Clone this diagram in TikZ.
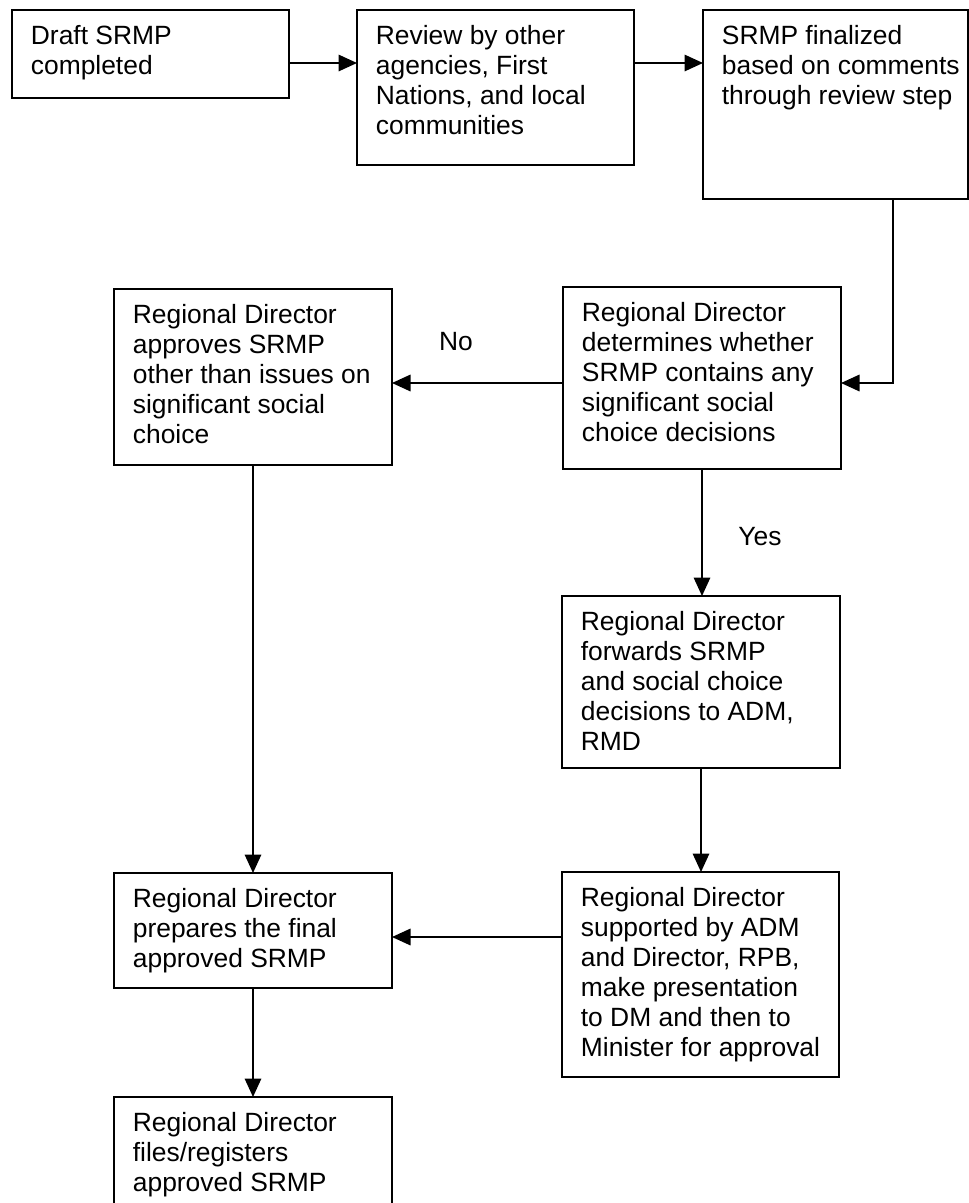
\documentclass[tikz,border=0pt]{standalone}
\usepackage{fontspec}
\setmainfont{Liberation Sans}
\usetikzlibrary{arrows.meta,calc}
\newcommand\fst{\rule{0pt}{22pt}}
\begin{document}
\begin{tikzpicture}[x=1pt,y=-1pt,
  box/.style={draw,line width=1.7pt,anchor=north west,inner sep=0pt,outer sep=0pt},
  txt/.style={anchor=north west,inner sep=0pt,align=left,font=\fontsize{26.4}{30}\selectfont},
  arr/.style={line width=1.7pt,-{Triangle[length=18.5pt,width=16.5pt]}},
  lbl/.style={inner sep=0pt,font=\fontsize{26.4}{30}\selectfont}]
\useasboundingbox (0,0) rectangle (969,1203);
\clip (0,0) rectangle (969,1203);
\coordinate (y63) at (0,63);
\coordinate (y383) at (0,383);
\coordinate (y937) at (0,937);
\coordinate (x893) at (893,0);

\node[box,minimum width=277pt,minimum height=88pt] (b1) at (12,10) {};
\node[box,minimum width=277pt,minimum height=155pt] (b2) at (357,10) {};
\node[box,minimum width=265pt,minimum height=189pt] (b3) at (703,10) {};
\node[box,minimum width=278pt,minimum height=182pt] (b4) at (563,287) {};
\node[box,minimum width=278pt,minimum height=176pt] (b5) at (114,289) {};
\node[box,minimum width=278pt,minimum height=172pt] (b6) at (562,596) {};
\node[box,minimum width=278pt,minimum height=115pt] (b7) at (114,873) {};
\node[box,minimum width=278pt,minimum height=130pt] (b8) at (114,1097) {};
\node[box,minimum width=277pt,minimum height=205pt] (b9) at (562,872) {};

\node[txt] (t1) at ($(b1.north west)+(18.7,12.5)$) {\fst Draft SRMP\\completed};
\node[txt] (t2) at ($(b2.north west)+(18.7,12.5)$) {\fst Review by other\\agencies, First\\Nations, and local\\communities};
\node[txt] (t3) at ($(b3.north west)+(18.7,12.5)$) {\fst SRMP finalized\\based on comments\\through review step};
\node[txt] (t4) at ($(b4.north west)+(18.7,12.5)$) {\fst Regional Director\\determines whether\\SRMP contains any\\significant social\\choice decisions};
\node[txt] (t5) at ($(b5.north west)+(18.7,12.5)$) {\fst Regional Director\\approves SRMP\\other than issues on\\significant social\\choice};
\node[txt] (t6) at ($(b6.north west)+(18.7,12.5)$) {\fst Regional Director\\forwards SRMP\\and social choice\\decisions to ADM,\\RMD};
\node[txt] (t7) at ($(b7.north west)+(18.7,12.5)$) {\fst Regional Director\\prepares the final\\approved SRMP};
\node[txt] (t8) at ($(b8.north west)+(18.7,12.5)$) {\fst Regional Director\\files/registers\\approved SRMP};
\node[txt] (t9) at ($(b9.north west)+(18.7,12.5)$) {\fst Regional Director\\supported by ADM\\and Director, RPB,\\make presentation\\to DM and then to\\Minister for approval};

\node[lbl] (no) at (456,342) {No};
\node[lbl] (yes) at (760,537) {Yes};

\draw[arr] (b1.east |- y63) -- (b2.west |- y63);
\draw[arr] (b2.east |- y63) -- (b3.west |- y63);
\draw[arr] (b3.south -| x893) |- (b4.east |- y383);
\draw[arr] (b4.west |- y383) -- (b5.east |- y383);
\draw[arr] (b4.south) -- (b4.south |- b6.north);
\draw[arr] (b6.south) -- (b6.south |- b9.north);
\draw[arr] (b5.south) -- (b5.south |- b7.north);
\draw[arr] (b9.west |- y937) -- (b7.east |- y937);
\draw[arr] (b7.south) -- (b7.south |- b8.north);
\end{tikzpicture}
\end{document}
